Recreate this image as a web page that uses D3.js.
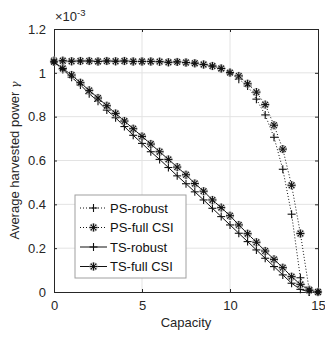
<!DOCTYPE html>
<html>
<head>
<meta charset="utf-8">
<script src="https://cdn.jsdelivr.net/npm/d3@7"></script>
<style>
  body { margin: 0; background: #fff; }
  svg { font-family: "Liberation Sans", Arial, sans-serif; }
</style>
</head>
<body>
<svg id="svg"></svg>
<script>
// capacity values, step 0.5
const capacity = [0,0.5,1,1.5,2,2.5,3,3.5,4,4.5,5,5.5,6,6.5,7,7.5,8,8.5,9,9.5,10,10.5,11,11.5,12,12.5,13,13.5,14,14.5,15];

// harvested power, units of 1e-3
const psRobust = [1.055,1.055,1.053,1.054,1.054,1.052,1.054,1.053,1.054,1.052,1.052,1.052,1.051,1.048,1.05,1.047,1.044,1.038,1.031,1.02,1.0,0.971,0.94,0.88,0.808,0.706,0.56,0.355,0.065,0,0];
const psFull   = [1.055,1.055,1.053,1.054,1.054,1.052,1.054,1.053,1.054,1.052,1.052,1.052,1.051,1.048,1.05,1.047,1.044,1.038,1.031,1.02,1.001,0.986,0.95,0.912,0.855,0.761,0.652,0.487,0.267,0.01,0];
const tsRobust = [1.05,1.015,0.98,0.945,0.905,0.87,0.83,0.795,0.755,0.715,0.678,0.64,0.605,0.568,0.53,0.494,0.457,0.42,0.382,0.344,0.306,0.268,0.23,0.192,0.154,0.116,0.078,0.04,0.012,0,0];
const tsFull   = [1.05,1.02,0.99,0.955,0.92,0.885,0.85,0.815,0.78,0.745,0.71,0.675,0.64,0.605,0.57,0.535,0.495,0.46,0.42,0.385,0.348,0.306,0.266,0.227,0.187,0.149,0.111,0.07,0.035,0.008,0];

const xTicks = [0, 5, 10, 15];
const yTicks = [0, 0.2, 0.4, 0.6, 0.8, 1, 1.2];

const series = [
  { name: 'PS-robust',   values: psRobust, dash: '1,2', marker: 'plus' },
  { name: 'PS-full CSI', values: psFull,   dash: '1,2', marker: 'star' },
  { name: 'TS-robust',   values: tsRobust, dash: null,  marker: 'plus' },
  { name: 'TS-full CSI', values: tsFull,   dash: null,  marker: 'star' },
];

const W = 325, H = 337;
const margin = { top: 29, right: 7, bottom: 45, left: 54 };
const width = W - margin.left - margin.right;
const height = H - margin.top - margin.bottom;
const axisColor = '#262626';

const svg = d3.select('#svg').attr('width', W).attr('height', H);
const g = svg.append('g').attr('transform', `translate(${margin.left},${margin.top})`);

const x = d3.scaleLinear().domain([0, 15]).range([0, width]);
const y = d3.scaleLinear().domain([0, 1.2]).range([height, 0]);

// grid
g.append('g').selectAll('line').data(xTicks.slice(1, -1)).join('line')
  .attr('x1', d => x(d)).attr('x2', d => x(d)).attr('y1', 0).attr('y2', height)
  .attr('stroke', '#e3e3e3').attr('stroke-width', 1);
g.append('g').selectAll('line').data(yTicks.slice(1, -1)).join('line')
  .attr('y1', d => y(d)).attr('y2', d => y(d)).attr('x1', 0).attr('x2', width)
  .attr('stroke', '#e3e3e3').attr('stroke-width', 1);

// axes
const fmt = d => d3.format('~g')(d);
const xAxis = g.append('g').attr('transform', `translate(0,${height})`)
  .call(d3.axisBottom(x).tickValues(xTicks).tickSizeInner(-3).tickSizeOuter(0).tickPadding(9).tickFormat(fmt));
const yAxis = g.append('g')
  .call(d3.axisLeft(y).tickValues(yTicks).tickSizeInner(-3).tickSizeOuter(0).tickPadding(8).tickFormat(fmt));
const xTop = g.append('g')
  .call(d3.axisTop(x).tickValues(xTicks).tickSizeInner(-3).tickSizeOuter(0).tickFormat(''));
const yRight = g.append('g').attr('transform', `translate(${width},0)`)
  .call(d3.axisRight(y).tickValues(yTicks).tickSizeInner(-3).tickSizeOuter(0).tickFormat(''));

[xAxis, yAxis, xTop, yRight].forEach(a => {
  a.selectAll('path').attr('stroke', axisColor).attr('stroke-width', 1);
  a.selectAll('line').attr('stroke', axisColor);
  a.selectAll('text').attr('fill', axisColor).style('font-size', '13px');
});

// exponent label
const expo = svg.append('text').attr('x', margin.left + 1).attr('y', 21)
  .attr('fill', axisColor).style('font-size', '13px');
expo.append('tspan').text('\u00d710');
expo.append('tspan').attr('dy', -5).style('font-size', '9.5px').text('-3');

// axis labels
svg.append('text').attr('x', margin.left + width / 2).attr('y', 327)
  .attr('text-anchor', 'middle').attr('fill', axisColor).style('font-size', '13px').text('Capacity');
const yl = svg.append('text')
  .attr('transform', `translate(19,${margin.top + height / 2}) rotate(-90)`)
  .attr('text-anchor', 'middle').attr('fill', axisColor).style('font-size', '13px');
yl.append('tspan').text('Average harvested power ');
yl.append('tspan').style('font-style', 'italic').style('font-size', '11px')
  .attr('font-family', '"DejaVu Serif", serif').text('\u03b3');

// markers
function drawMarker(sel, type, s) {
  const r = s / 2;
  const paths = type === 'plus'
    ? [[-r, 0, r, 0], [0, -r, 0, r]]
    : [[-r, 0, r, 0], [0, -r, 0, r], [-r * 0.7, -r * 0.7, r * 0.7, r * 0.7], [-r * 0.7, r * 0.7, r * 0.7, -r * 0.7]];
  if (type === 'star') {
    sel.append('circle').attr('r', r * 0.9).attr('fill', 'none')
      .attr('stroke', '#b8b8b8').attr('stroke-width', 1.2);
  }
  paths.forEach(p => {
    sel.append('line').attr('x1', p[0]).attr('y1', p[1]).attr('x2', p[2]).attr('y2', p[3])
      .attr('stroke', '#111').attr('stroke-width', 1.1);
  });
}

const line = d3.line().x((d, i) => x(capacity[i])).y(d => y(d));

series.forEach(s => {
  g.append('path').datum(s.values)
    .attr('d', line).attr('fill', 'none')
    .attr('stroke', '#111').attr('stroke-width', s.dash ? 1 : 1)
    .attr('stroke-dasharray', s.dash);
  g.append('g').selectAll('g').data(s.values).join('g')
    .attr('transform', (d, i) => `translate(${x(capacity[i])},${y(d)})`)
    .each(function () { drawMarker(d3.select(this), s.marker, 8); });
});

// legend
const legend = svg.append('g').attr('transform', 'translate(75,195)');
legend.append('rect').attr('width', 111).attr('height', 83)
  .attr('fill', '#fff').attr('stroke', '#a0a0a0').attr('stroke-width', 1);
series.forEach((s, i) => {
  const ly = 13 + i * 19.5;
  const row = legend.append('g').attr('transform', `translate(0,${ly})`);
  row.append('line').attr('x1', 5).attr('x2', 32).attr('y1', 0).attr('y2', 0)
    .attr('stroke', '#111').attr('stroke-dasharray', s.dash);
  drawMarker(row.append('g').attr('transform', 'translate(18.5,0)'), s.marker, 8);
  row.append('text').attr('x', 35).attr('y', 4.5).attr('fill', '#111')
    .style('font-size', '13px').text(s.name);
});
</script>
</body>
</html>
